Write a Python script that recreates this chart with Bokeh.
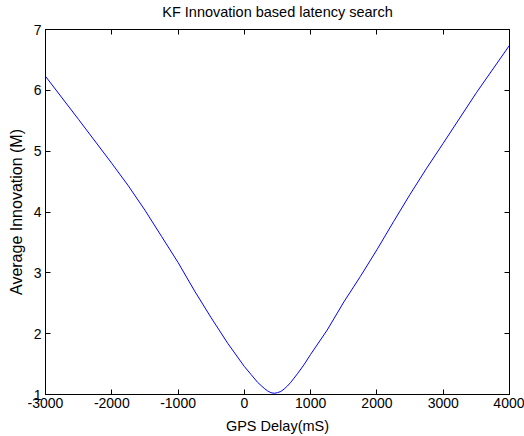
from bokeh.plotting import figure
from bokeh.models import LinearAxis, FixedTicker, Range1d
from bokeh.embed import file_html
from bokeh.resources import INLINE

# data
delay = [-3000, -2500, -2000, -1750, -1500, -1250, -1000, -750, -500, -250, 0, 100, 200, 250,
         300, 350, 400, 450, 500, 550, 600, 650, 700, 750, 800, 900, 1000, 1250, 1500, 1750,
         2000, 2250, 2500, 2750, 3000, 3500, 4000]
innovation = [6.23, 5.52, 4.80, 4.43, 4.03, 3.60, 3.17, 2.70, 2.26, 1.84, 1.46, 1.33, 1.20, 1.15,
              1.10, 1.06, 1.03, 1.02, 1.03, 1.05, 1.09, 1.14, 1.20, 1.27, 1.34, 1.49, 1.66, 2.06, 2.52, 2.94,
              3.38, 3.84, 4.29, 4.72, 5.13, 5.96, 6.74]
x_ticks = [-3000, -2000, -1000, 0, 1000, 2000, 3000, 4000]
x_tick_labels = ["-3000", "-2000", "-1000", "0", "1000", "2000", "3000", "4000"]
y_ticks = [1, 2, 3, 4, 5, 6, 7]
title_text = "KF Innovation based latency search"

FONT = "Liberation Sans"

p = figure(width=524, height=436, output_backend="svg", toolbar_location=None,
           x_range=Range1d(-3000, 4000), y_range=Range1d(1, 7),
           min_border_left=45, min_border_right=15, min_border_top=29, min_border_bottom=42)

p.line(delay, innovation, line_color="#0000ff", line_width=1)

p.grid.visible = False
p.outline_line_color = "black"
p.outline_line_width = 1
p.background_fill_color = "white"
p.border_fill_color = "white"

p.xaxis.ticker = FixedTicker(ticks=x_ticks)
p.xaxis.major_label_overrides = {t: s for t, s in zip(x_ticks, x_tick_labels)}
p.yaxis.ticker = FixedTicker(ticks=y_ticks)
p.xaxis.axis_label = "GPS Delay(mS)"
p.yaxis.axis_label = "Average Innovation (M)"

for ax in (p.xaxis[0], p.yaxis[0]):
    ax.major_tick_in = 5
    ax.major_tick_out = 0
    ax.minor_tick_line_color = None
    ax.axis_line_color = "black"
    ax.major_label_text_font = FONT
    ax.major_label_text_font_size = "14px"
    ax.major_label_text_color = "black"
    ax.axis_label_text_font = FONT
    ax.axis_label_text_font_style = "normal"
    ax.axis_label_text_color = "black"

p.xaxis.axis_label_text_font_size = "14.5px"
p.yaxis.axis_label_text_font_size = "16px"
p.xaxis.major_label_standoff = 3
p.xaxis.axis_label_standoff = 7
p.yaxis.major_label_standoff = 4
p.yaxis.axis_label_standoff = 6

# box ticks on right and top; the top axis carries the title
rax = LinearAxis(ticker=FixedTicker(ticks=y_ticks), major_label_text_font_size="0px",
                 major_tick_in=5, major_tick_out=0, minor_tick_line_color=None,
                 major_label_text_color=None, major_label_standoff=0)
tax = LinearAxis(ticker=FixedTicker(ticks=x_ticks), major_label_text_font_size="0px",
                 major_tick_in=5, major_tick_out=0, minor_tick_line_color=None,
                 major_label_text_color=None, major_label_standoff=0,
                 axis_label=title_text, axis_label_text_font=FONT,
                 axis_label_text_font_size="14.5px", axis_label_text_font_style="normal",
                 axis_label_text_color="black", axis_label_standoff=10)
p.add_layout(rax, "right")
p.add_layout(tax, "above")

open("out.html", "w").write(file_html(p, INLINE))
